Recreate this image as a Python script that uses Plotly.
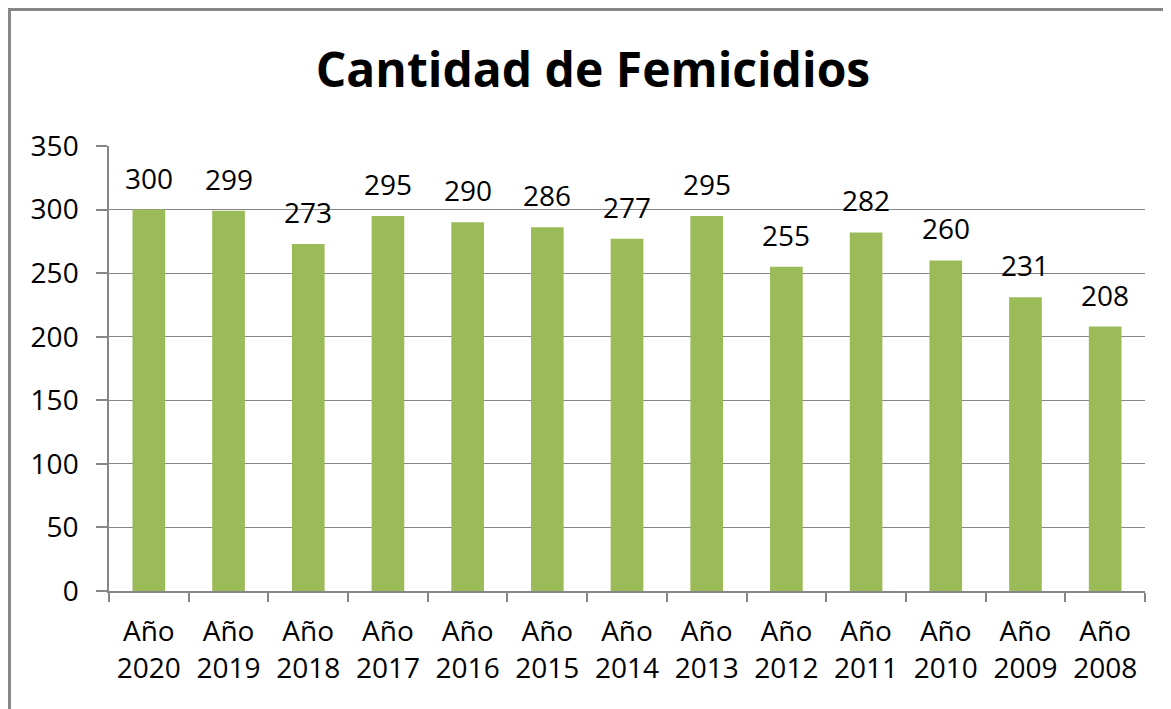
import plotly.graph_objects as go

categories = ["Año<br>2020", "Año<br>2019", "Año<br>2018", "Año<br>2017", "Año<br>2016",
              "Año<br>2015", "Año<br>2014", "Año<br>2013", "Año<br>2012", "Año<br>2011",
              "Año<br>2010", "Año<br>2009", "Año<br>2008"]
values = [300, 299, 273, 295, 290, 286, 277, 295, 255, 282, 260, 231, 208]
y_ticks = [0, 50, 100, 150, 200, 250, 300, 350]

FONT = "Open Sans"
OFF = 8  # page body margin
W, H = 1171 - OFF, 709 - OFF
L, T = 109 - OFF, 146 - OFF
R = W - (1145 - OFF)
B = H - (591 - OFF)
pw, ph = W - L - R, H - T - B

fig = go.Figure(go.Bar(
    x=categories, y=values,
    marker=dict(color="#9BBB59", line=dict(width=0)),
    width=0.41,
))

for c, v in zip(categories, values):
    fig.add_annotation(x=c, y=v, text=str(v), showarrow=False,
                       yanchor="middle", yshift=32,
                       font=dict(family=FONT, size=28, color="#000000"))

# chart border
fig.add_shape(type="rect", xref="paper", yref="paper",
              x0=(1.5 - L) / pw, x1=(W + 20 - L) / pw,
              y0=(ph - (H + 20 - T)) / ph, y1=(ph - (1.5 - T)) / ph,
              line=dict(color="#878787", width=3), fillcolor="rgba(0,0,0,0)", layer="below")

fig.update_layout(
    width=W, height=H,
    margin=dict(l=L, r=R, t=T, b=B),
    paper_bgcolor="white", plot_bgcolor="white",
    showlegend=False,
    font=dict(family=FONT, color="#000000"),
    title=dict(text="<b>Cantidad de Femicidios</b>", x=(593 - OFF) / W, xanchor="center",
               y=1 - (70 - OFF) / H, yanchor="middle", xref="container", yref="container",
               font=dict(family=FONT, size=48, color="#000000")),
    xaxis=dict(type="category", tickson="boundaries", ticks="outside", ticklen=9,
               tickcolor="#868686", tickwidth=1.5, showline=True, linecolor="#868686",
               linewidth=1.5, showgrid=False, tickfont=dict(family=FONT, size=28),
               ticklabelstandoff=15),
    yaxis=dict(range=[0, 350], tickvals=y_ticks, ticks="outside", ticklen=11,
               tickcolor="#868686", tickwidth=1.5, showline=True, linecolor="#868686",
               linewidth=1.5, showgrid=True, gridcolor="#868686", gridwidth=1.2,
               zeroline=False, tickfont=dict(family=FONT, size=28),
               ticklabelstandoff=12),
)

fig.write_html("out.html")
